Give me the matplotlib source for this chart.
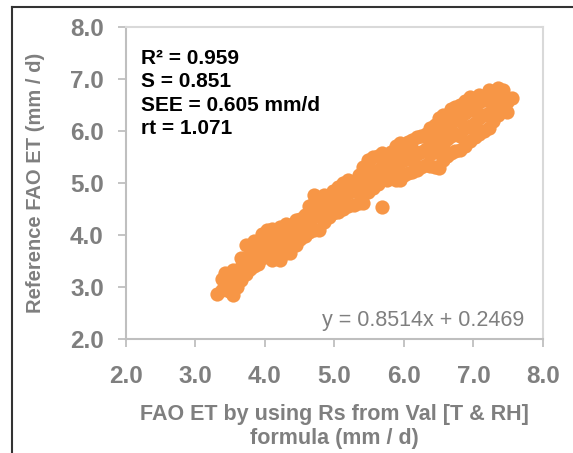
import matplotlib
matplotlib.use("Agg")
import matplotlib.pyplot as plt
from matplotlib.lines import Line2D

# FAO ET via Val [T & RH] Rs (x) vs reference FAO ET (y), mm/d
x_vals = [
    3.31, 3.38, 3.38, 3.42, 3.42, 3.48, 3.48, 3.54, 3.54, 3.54,
    3.60, 3.60, 3.66, 3.66, 3.66, 3.72, 3.72, 3.72, 3.78, 3.78,
    3.84, 3.84, 3.84, 3.90, 3.90, 3.90, 3.96, 3.96, 3.96, 4.03,
    4.03, 4.03, 4.10, 4.10, 4.10, 4.10, 4.16, 4.16, 4.16, 4.22,
    4.22, 4.22, 4.22, 4.30, 4.30, 4.30, 4.30, 4.36, 4.36, 4.36,
    4.44, 4.44, 4.44, 4.50, 4.50, 4.50, 4.58, 4.58, 4.58, 4.64,
    4.64, 4.64, 4.70, 4.70, 4.70, 4.70, 4.78, 4.78, 4.78, 4.85,
    4.85, 4.85, 4.92, 4.92, 4.92, 4.98, 4.98, 4.98, 5.05, 5.05,
    5.05, 5.12, 5.12, 5.12, 5.20, 5.20, 5.20, 5.28, 5.28, 5.28,
    5.35, 5.35, 5.35, 5.41, 5.41, 5.41, 5.41, 5.48, 5.48, 5.48,
    5.48, 5.55, 5.55, 5.55, 5.62, 5.62, 5.62, 5.68, 5.68, 5.68,
    5.68, 5.75, 5.75, 5.75, 5.82, 5.82, 5.82, 5.88, 5.88, 5.88,
    5.88, 5.94, 5.94, 5.94, 6.00, 6.00, 6.00, 6.06, 6.06, 6.06,
    6.12, 6.12, 6.12, 6.12, 6.19, 6.19, 6.19, 6.25, 6.25, 6.25,
    6.32, 6.32, 6.32, 6.38, 6.38, 6.38, 6.38, 6.44, 6.44, 6.44,
    6.44, 6.50, 6.50, 6.50, 6.50, 6.56, 6.56, 6.56, 6.56, 6.62,
    6.62, 6.62, 6.68, 6.68, 6.68, 6.68, 6.74, 6.74, 6.74, 6.74,
    6.81, 6.81, 6.81, 6.81, 6.88, 6.88, 6.88, 6.88, 6.95, 6.95,
    6.95, 6.95, 7.02, 7.02, 7.02, 7.02, 7.08, 7.08, 7.08, 7.08,
    7.15, 7.15, 7.15, 7.22, 7.22, 7.22, 7.22, 7.28, 7.28, 7.28,
    7.35, 7.35, 7.35, 7.42, 7.42, 7.42, 7.48, 7.48, 7.55,
]
y_vals = [
    2.87, 2.95, 3.15, 3.27, 3.05, 2.92, 3.20, 2.84, 3.10, 3.32,
    3.00, 3.25, 3.13, 3.38, 3.55, 3.25, 3.50, 3.80, 3.35, 3.62,
    3.40, 3.70, 3.88, 3.45, 3.62, 3.85, 3.55, 3.80, 4.02, 3.60,
    3.85, 4.10, 3.52, 3.75, 3.98, 4.12, 3.60, 3.88, 4.05, 3.52,
    3.70, 3.95, 4.15, 3.65, 3.85, 4.08, 4.22, 3.65, 3.90, 4.18,
    3.80, 4.02, 4.28, 3.92, 4.12, 4.30, 3.98, 4.20, 4.38, 4.05,
    4.30, 4.55, 4.10, 4.35, 4.62, 4.77, 4.10, 4.40, 4.70, 4.25,
    4.50, 4.76, 4.35, 4.60, 4.72, 4.42, 4.62, 4.85, 4.45, 4.70,
    4.92, 4.50, 4.75, 5.00, 4.55, 4.80, 5.06, 4.58, 4.85, 5.02,
    4.62, 4.90, 5.15, 4.62, 4.85, 5.10, 5.30, 4.82, 5.05, 5.35,
    5.45, 4.90, 5.15, 5.50, 4.98, 5.25, 5.52, 4.54, 5.05, 5.30,
    5.58, 5.05, 5.25, 5.50, 5.10, 5.35, 5.60, 5.05, 5.30, 5.55,
    5.72, 5.06, 5.40, 5.77, 5.15, 5.45, 5.70, 5.20, 5.50, 5.78,
    5.22, 5.45, 5.65, 5.82, 5.25, 5.55, 5.88, 5.30, 5.60, 5.90,
    5.35, 5.65, 5.95, 5.32, 5.55, 5.80, 6.05, 5.30, 5.60, 5.90,
    6.12, 5.29, 5.70, 6.00, 6.25, 5.45, 5.75, 6.05, 6.30, 5.52,
    5.85, 6.20, 5.58, 5.90, 6.15, 6.42, 5.62, 5.95, 6.30, 6.46,
    5.63, 5.90, 6.20, 6.50, 5.72, 6.05, 6.35, 6.58, 5.80, 6.10,
    6.40, 6.65, 5.88, 6.15, 6.45, 6.62, 5.95, 6.25, 6.55, 6.70,
    6.00, 6.30, 6.60, 6.06, 6.35, 6.65, 6.78, 6.20, 6.45, 6.72,
    6.30, 6.55, 6.83, 6.38, 6.62, 6.78, 6.37, 6.55, 6.63,
]

stats_lines = ["R² = 0.959", "S = 0.851", "SEE = 0.605 mm/d", "rt = 1.071"]
fit_label = "y = 0.8514x + 0.2469"
ticks = [2.0, 3.0, 4.0, 5.0, 6.0, 7.0, 8.0]

ORANGE = "#F79646"
GREY_TXT = "#7f7f7f"

plt.rcParams["font.family"] = ["Liberation Sans", "DejaVu Sans"]

fig = plt.figure(figsize=(5.73, 4.53), dpi=100)
ax = fig.add_axes([0.2199, 0.2517, 0.7277, 0.6887])

ax.scatter(x_vals, y_vals, s=105, color=ORANGE, linewidths=0, zorder=3)

ax.set_xlim(2, 8)
ax.set_ylim(2, 8)
ax.set_xticks(ticks)
ax.set_yticks(ticks)
ax.set_xticklabels([f"{t:.1f}" for t in ticks])
ax.set_yticklabels([f"{t:.1f}" for t in ticks])
ax.tick_params(axis="both", colors="#bfbfbf", labelcolor=GREY_TXT,
               labelsize=17.5, length=6, width=1.3, direction="out")
for lab in ax.get_xticklabels() + ax.get_yticklabels():
    lab.set_fontweight("bold")
ax.tick_params(axis="x", pad=13)
ax.tick_params(axis="y", pad=10)

for side in ["left", "bottom"]:
    ax.spines[side].set_color("#bfbfbf")
    ax.spines[side].set_linewidth(1.5)
for side in ["top", "right"]:
    ax.spines[side].set_color("#d9d9d9")
    ax.spines[side].set_linewidth(1.5)

ax.set_xlabel("FAO ET by using Rs from Val [T & RH]\nformula (mm / d)",
              fontsize=15.5, fontweight="bold", color=GREY_TXT, labelpad=11,
              linespacing=1.2)
ax.set_ylabel("Reference FAO ET (mm / d)", fontsize=14.5, fontweight="bold",
              color=GREY_TXT, labelpad=18)

ax.text(0.035, 0.93, "\n".join(stats_lines), transform=ax.transAxes,
        fontsize=15, fontweight="bold", color="black", va="top", ha="left",
        linespacing=1.3)
ax.text(0.955, 0.025, fit_label, transform=ax.transAxes, fontsize=15.5,
        color=GREY_TXT, ha="right", va="bottom")

# outer frame lines (top and left) of the figure
fig.add_artist(Line2D([12 / 573, 1.0], [1 - 7 / 453, 1 - 7 / 453],
                      color="#333333", linewidth=1.5, transform=fig.transFigure))
fig.add_artist(Line2D([12 / 573, 12 / 573], [0.0, 1 - 7 / 453],
                      color="#333333", linewidth=1.5, transform=fig.transFigure))

fig.savefig("out.png", dpi=100)
